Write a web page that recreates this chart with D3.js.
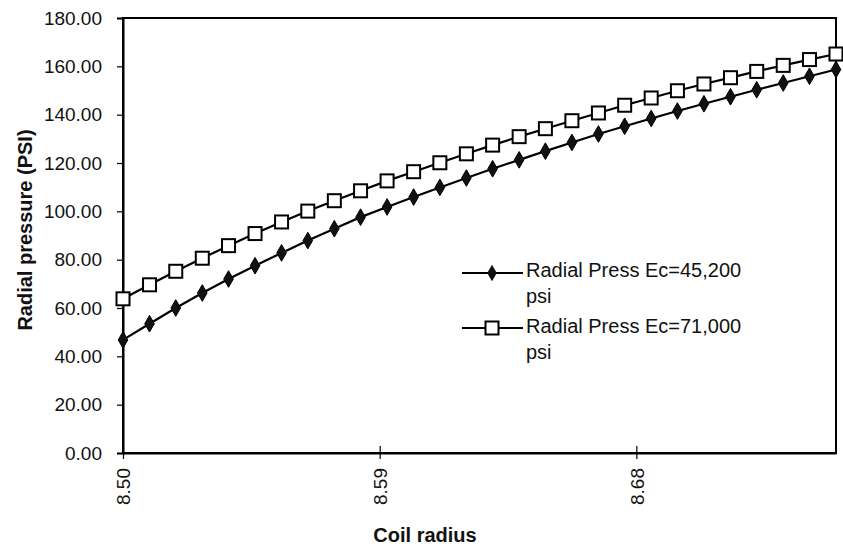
<!DOCTYPE html>
<html><head><meta charset="utf-8">
<script src="https://cdn.jsdelivr.net/npm/d3@7"></script>
<style>body{margin:0;background:#fff}svg{display:block}text{font-family:"Liberation Sans",Arial,sans-serif;fill:#111}</style>
</head><body>
<svg id="c" width="843" height="548"></svg>
<script>
const coilRadius = [8.5000,8.5093,8.5185,8.5278,8.5370,8.5463,8.5556,8.5648,8.5741,8.5833,8.5926,8.6019,8.6111,8.6204,8.6296,8.6389,8.6481,8.6574,8.6667,8.6759,8.6852,8.6944,8.7037,8.7130,8.7222,8.7315,8.7407,8.7500];
const press45200 = [46.8,53.5,60.0,66.2,72.0,77.5,82.8,87.9,92.8,97.6,101.8,105.9,109.9,113.8,117.6,121.3,124.9,128.5,132.0,135.2,138.4,141.5,144.5,147.4,150.3,153.1,155.9,158.7];
const press71000 = [63.8,69.6,75.2,80.6,85.8,90.8,95.6,100.1,104.4,108.5,112.6,116.4,120.1,123.8,127.4,130.9,134.2,137.5,140.7,143.9,146.9,149.9,152.7,155.3,157.9,160.4,162.8,165.1];
const xTicks = [8.50, 8.59, 8.68];
const yTicks = [0,20,40,60,80,100,120,140,160,180];
const seriesNames = ["Radial Press Ec=45,200", "Radial Press Ec=71,000"];

const svg = d3.select("#c");
const L=123, R=836, T=18, B=453;
const FONT = "Liberation Sans, Arial, sans-serif";
const x = d3.scaleLinear().domain([8.5, 8.75]).range([L, R]);
const y = d3.scaleLinear().domain([0, 180]).range([B, T]);

// frame
svg.append("rect").attr("x",L).attr("y",T).attr("width",R-L).attr("height",B-T)
  .attr("fill","none").attr("stroke","#000").attr("stroke-width",2);

// y axis
const ya = svg.append("g").attr("transform",`translate(${L},0)`)
  .call(d3.axisLeft(y).tickValues(yTicks).tickSize(6).tickPadding(15).tickFormat(d3.format(".2f")));
ya.select(".domain").attr("stroke","#000").attr("stroke-width",2);
ya.selectAll(".tick line").attr("stroke","#000").attr("stroke-width",1.2);
ya.selectAll(".tick text").attr("font-size",19).attr("fill","#111").style("font-family",FONT);

// x axis
const xa = svg.append("g").attr("transform",`translate(0,${B})`)
  .call(d3.axisBottom(x).tickValues(xTicks).tickSize(0).tickFormat(d3.format(".2f")));
xa.select(".domain").attr("stroke","#000").attr("stroke-width",2);
xa.selectAll(".tick line").attr("y1",-7).attr("y2",6).attr("stroke","#000").attr("stroke-width",1.2);
xa.selectAll(".tick text").attr("font-size",19).attr("fill","#111")
  .attr("transform","rotate(-90)").attr("text-anchor","end").attr("dy","0.35em")
  .attr("x",-15).attr("y",0).style("font-family",FONT);

// titles
svg.append("text").attr("x",425).attr("y",542).attr("text-anchor","middle")
  .attr("font-size",20).attr("font-weight","bold").text("Coil radius");
svg.append("text").attr("transform",`translate(32,230) rotate(-90)`).attr("text-anchor","middle")
  .attr("font-size",20).attr("font-weight","bold").text("Radial pressure (PSI)");

const line = d3.line().x((d,i)=>x(coilRadius[i])).y(d=>y(d));
const diamond = d3.symbol().type(d3.symbolDiamond).size(80);

function drawSeries(vals, kind){
  svg.append("path").datum(vals).attr("d",line).attr("fill","none").attr("stroke","#000").attr("stroke-width",2.2);
  const g = svg.append("g");
  if(kind==="d"){
    g.selectAll("path").data(vals).join("path").attr("d",diamond)
      .attr("transform",(d,i)=>`translate(${x(coilRadius[i])},${y(d)})`)
      .attr("fill","#111").attr("stroke","#000").attr("stroke-width",1);
  } else {
    g.selectAll("rect").data(vals).join("rect")
      .attr("x",(d,i)=>x(coilRadius[i])-6.5).attr("y",d=>y(d)-6.5)
      .attr("width",13).attr("height",13).attr("fill","#fff").attr("stroke","#000").attr("stroke-width",2);
  }
}
drawSeries(press71000,"s");
drawSeries(press45200,"d");

// legend
const lg = svg.append("g");
[[273,277,"d",seriesNames[0]],[328,333,"s",seriesNames[1]]].forEach(([ly,tb,k,name])=>{
  lg.append("line").attr("x1",462).attr("x2",523).attr("y1",ly).attr("y2",ly).attr("stroke","#000").attr("stroke-width",2);
  if(k==="d") lg.append("path").attr("d",diamond).attr("transform",`translate(492,${ly})`).attr("fill","#111");
  else lg.append("rect").attr("x",485.5).attr("y",ly-6.5).attr("width",13).attr("height",13).attr("fill","#fff").attr("stroke","#000").attr("stroke-width",2);
  const t = lg.append("text").attr("x",526).attr("y",tb).attr("font-size",20);
  t.append("tspan").attr("x",526).text(name);
  t.append("tspan").attr("x",526).attr("dy",26).text("psi");
});
</script>
</body></html>
